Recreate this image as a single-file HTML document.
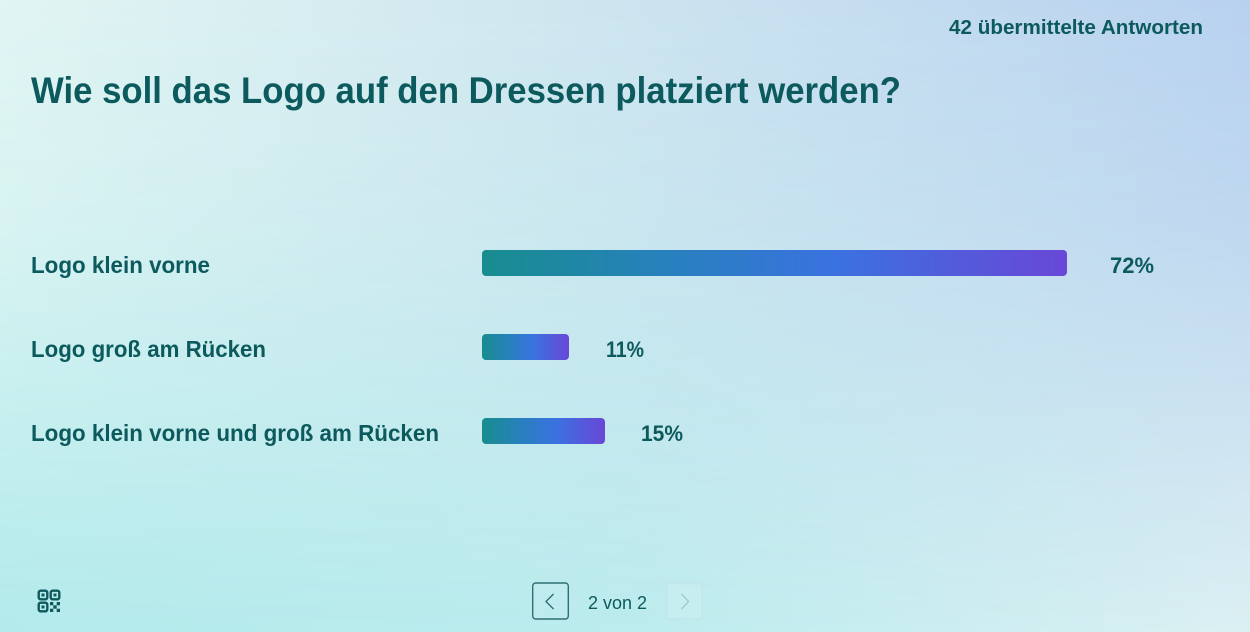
<!DOCTYPE html>
<html>
<head>
<meta charset="utf-8">
<style>
  html, body { margin: 0; padding: 0; width: 1250px; height: 632px; overflow: hidden; }
  svg { display: block; }
  text { font-family: "Liberation Sans", sans-serif; fill: #0c5a5d; }
</style>
</head>
<body>
<svg width="1250" height="632" viewBox="0 0 1250 632" xmlns="http://www.w3.org/2000/svg">
  <defs>
    <linearGradient id="bgBottom" x1="0" y1="0" x2="1" y2="0">
      <stop offset="0" stop-color="#b3ebec"/>
      <stop offset="0.5" stop-color="#bcecee"/>
      <stop offset="1" stop-color="#dcf0f3"/>
    </linearGradient>
    <linearGradient id="bgTop" x1="0" y1="0" x2="1" y2="0">
      <stop offset="0" stop-color="#e1f5f3"/>
      <stop offset="0.45" stop-color="#cfe6ef"/>
      <stop offset="1" stop-color="#b8d1ef"/>
    </linearGradient>
    <linearGradient id="fade" x1="0" y1="0" x2="0" y2="1">
      <stop offset="0" stop-color="#fff" stop-opacity="1"/>
      <stop offset="0.35" stop-color="#fff" stop-opacity="0.8"/>
      <stop offset="1" stop-color="#fff" stop-opacity="0"/>
    </linearGradient>
    <mask id="m">
      <rect width="1250" height="632" fill="url(#fade)"/>
    </mask>
    <linearGradient id="bar" x1="0" y1="0" x2="1" y2="0">
      <stop offset="0" stop-color="#178d8e"/>
      <stop offset="0.3" stop-color="#2781bb"/>
      <stop offset="0.6" stop-color="#3a72e0"/>
      <stop offset="1" stop-color="#6947d7"/>
    </linearGradient>
  </defs>

  <rect width="1250" height="632" fill="url(#bgBottom)"/>
  <rect width="1250" height="632" fill="url(#bgTop)" mask="url(#m)"/>

  <!-- header -->
  <text x="949" y="34" font-size="20" font-weight="700" textLength="254" lengthAdjust="spacingAndGlyphs">42 übermittelte Antworten</text>
  <text x="31" y="103" font-size="37" font-weight="700" textLength="870" lengthAdjust="spacingAndGlyphs">Wie soll das Logo auf den Dressen platziert werden?</text>

  <!-- labels -->
  <text x="31" y="273" font-size="23" font-weight="700" textLength="179" lengthAdjust="spacingAndGlyphs">Logo klein vorne</text>
  <text x="31" y="357" font-size="23" font-weight="700" textLength="235" lengthAdjust="spacingAndGlyphs">Logo groß am Rücken</text>
  <text x="31" y="441" font-size="23" font-weight="700" textLength="408" lengthAdjust="spacingAndGlyphs">Logo klein vorne und groß am Rücken</text>

  <!-- bars -->
  <rect x="482" y="250" width="585" height="26" rx="4" fill="url(#bar)"/>
  <rect x="482" y="334" width="87" height="26" rx="4" fill="url(#bar)"/>
  <rect x="482" y="418" width="123" height="26" rx="4" fill="url(#bar)"/>

  <!-- percentages -->
  <text x="1110" y="273" font-size="22" font-weight="700" textLength="44" lengthAdjust="spacingAndGlyphs">72%</text>
  <text x="606" y="357" font-size="22" font-weight="700" textLength="38" lengthAdjust="spacingAndGlyphs">11%</text>
  <text x="641" y="441" font-size="22" font-weight="700" textLength="42" lengthAdjust="spacingAndGlyphs">15%</text>

  <!-- QR icon -->
  <g fill="none" stroke="#0f5a5e" stroke-width="2.4">
    <rect x="38.7" y="590.7" width="8.6" height="8.6" rx="2"/>
    <rect x="50.7" y="590.7" width="8.6" height="8.6" rx="2"/>
    <rect x="38.7" y="602.7" width="8.6" height="8.6" rx="2"/>
  </g>
  <g fill="#0f5a5e">
    <rect x="41.5" y="593.5" width="3" height="3"/>
    <rect x="53.5" y="593.5" width="3" height="3"/>
    <rect x="41.5" y="605.5" width="3" height="3"/>
    <rect x="50" y="602" width="3.3" height="3.3"/>
    <rect x="56.7" y="602" width="3.3" height="3.3"/>
    <rect x="53.3" y="605.3" width="3.4" height="3.4"/>
    <rect x="50" y="608.7" width="3.3" height="3.3"/>
    <rect x="56.7" y="608.7" width="3.3" height="3.3"/>
  </g>

  <!-- pagination -->
  <rect x="532.7" y="583" width="35.6" height="36" rx="3" fill="#c4eef0" fill-opacity="0.4" stroke="#2f6f73" stroke-width="1.4"/>
  <polyline points="553.5,594 546,601.5 553.5,609" fill="none" stroke="#2a6a6e" stroke-width="1.3"/>
  <text x="588" y="609" font-size="18" textLength="59" lengthAdjust="spacingAndGlyphs">2 von 2</text>
  <rect x="667" y="583" width="35" height="36" rx="3" fill="#d2f0f2" fill-opacity="0.4" stroke="#c3e2e4" stroke-width="1"/>
  <polyline points="681.5,594 688.5,601.5 681.5,609" fill="none" stroke="#9cc4c8" stroke-width="1.2"/>
</svg>
</body>
</html>
